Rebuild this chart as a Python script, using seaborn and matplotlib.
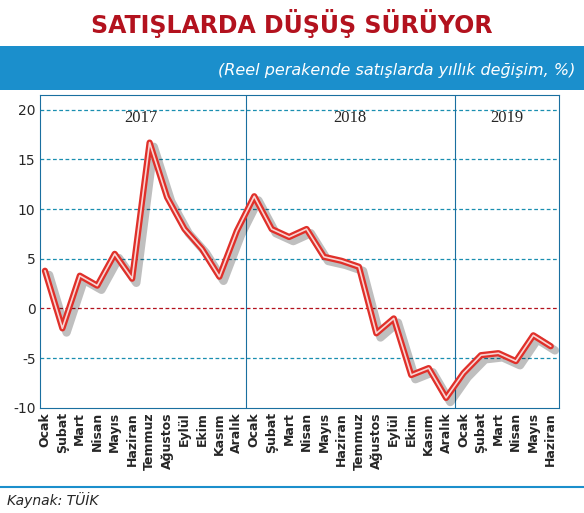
import matplotlib
matplotlib.use("Agg")
import matplotlib.pyplot as plt
import matplotlib.patheffects as pe
import seaborn as sns

months = ["Ocak", "Şubat", "Mart", "Nisan", "Mayıs", "Haziran", "Temmuz", "Ağustos",
          "Eylül", "Ekim", "Kasım", "Aralık"]
labels = months + months + months[:6]
values = [3.8, -2.0, 3.3, 2.3, 5.5, 3.0, 16.7, 11.2, 8.0, 6.0, 3.2, 7.8,
          11.3, 8.0, 7.2, 8.0, 5.2, 4.8, 4.2, -2.5, -1.0, -6.7, -6.0, -9.0,
          -6.5, -4.7, -4.5, -5.3, -2.7, -3.8]
years = ["2017", "2018", "2019"]
year_centers = [5.5, 17.5, 26.5]
yticks = [-10, -5, 0, 5, 10, 15, 20]

sns.set_style("white")
plt.rcParams["font.family"] = ["DejaVu Sans"]
fig = plt.figure(figsize=(5.84, 5.13), dpi=100)

fig.text(0.5, 0.955, "SATIŞLARDA DÜŞÜŞ SÜRÜYOR", ha="center", va="center",
         fontsize=17, fontweight="bold", color="#b3121e", family="Liberation Sans Narrow" )
band = fig.add_axes([0.0, 0.825, 1.0, 0.085])
band.set_facecolor("#1b8fcc")
band.set_xticks([]); band.set_yticks([])
for s in band.spines.values():
    s.set_visible(False)
band.text(0.985, 0.45, "(Reel perakende satışlarda yıllık değişim, %)", ha="right", va="center",
          color="white", fontsize=11.5, style="italic", transform=band.transAxes)

ax = fig.add_axes([0.068, 0.205, 0.89, 0.61])
x = list(range(len(values)))
for y in [5, 10, 15, 20, -5]:
    ax.axhline(y, color="#1a8fb0", ls=(0, (3, 2)), lw=0.9)
ax.axhline(0, color="#b3121e", ls=(0, (3, 2)), lw=0.9)
for xv in [11.5, 23.5]:
    ax.axvline(xv, color="#1a6fa0", lw=0.8)
sns.lineplot(x=x, y=values, ax=ax, color="#e0302a", lw=4.5,
             path_effects=[pe.SimpleLineShadow(offset=(3, -3), alpha=0.25, linewidth=6), pe.Normal()])
ax.plot(x, values, color="white", lw=1.2, alpha=0.8)
for yr, c in zip(years, year_centers):
    ax.text(c, 19.2, yr, ha="center", va="center", fontsize=12, family="Liberation Serif")
ax.set_xlim(-0.3, len(values) - 0.5)
ax.set_ylim(-10, 21.5)
ax.set_yticks(yticks)
ax.set_yticklabels([str(v) for v in yticks], fontsize=10)
ax.set_xticks(x)
ax.set_xticklabels(labels, rotation=90, fontsize=9, fontweight="bold", family="Liberation Sans Narrow")
ax.tick_params(axis="both", length=0, pad=3)
for s in ax.spines.values():
    s.set_color("#1a6fa0"); s.set_linewidth(0.8)

fig.add_artist(plt.Line2D([0, 1], [0.05, 0.05], color="#1b8fcc", lw=1.5))
fig.text(0.012, 0.025, "Kaynak: TÜİK", ha="left", va="center", fontsize=10, style="italic")
fig.savefig("out.png", dpi=100)
